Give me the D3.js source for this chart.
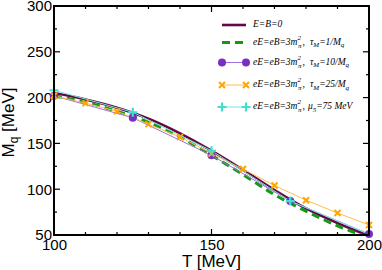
<!DOCTYPE html>
<html>
<head>
<meta charset="utf-8">
<script src="https://cdn.jsdelivr.net/npm/d3@7"></script>
<style>
  body { margin: 0; background: #fff; }
  .tick text { font-family: "Liberation Sans", Arial, sans-serif; }
</style>
</head>
<body>
<div id="chart"></div>
<script>
// temperatures
var tFine = [100, 110, 120, 130, 140, 150, 160, 170, 180, 190, 200];
var tCoarse = [100, 125, 150, 175, 200];

// M_q values [MeV] for each case
var mZero   = [205, 198, 189, 177, 161, 142, 121, 99, 79, 63, 49];   // E=B=0
var mTau1   = [202, 195, 185, 173, 157, 137, 116, 94, 76, 60, 47];   // tau_M = 1/M_q
var mTau10  = [202, 178, 137, 87, 51];                               // tau_M = 10/M_q
var mTau25  = [202, 194, 185, 171, 157, 139, 122, 104, 88, 74, 61];  // tau_M = 25/M_q
var mMu5    = [208, 184, 142, 87, 51];                               // mu_5 = 75 MeV

var xTicks = [100, 150, 200];
var yTicks = [50, 100, 150, 200, 250, 300];

// plot box
var margin = {top: 6, right: 13, bottom: 35, left: 54},
  width = 382 - margin.left - margin.right,
  height = 270 - margin.top - margin.bottom;

var svg = d3.select("#chart")
  .append("svg")
    .attr("width", 382)
    .attr("height", 270)
  .append("g")
    .attr("transform", "translate(" + margin.left + "," + margin.top + ")");

var x = d3.scaleLinear().domain([100, 200]).range([0, width]);
var y = d3.scaleLinear().domain([50, 300]).range([height, 0]);

svg.append("defs").append("clipPath").attr("id", "clip")
  .append("rect").attr("width", width).attr("height", height);

// minor ticks (inward) on all four sides
var xMinor = d3.range(110, 200, 10).filter(function(v) { return v != 150; });
var yMinor = d3.range(75, 300, 50);

function drawTicks(g, vals, len, horiz) {
  vals.forEach(function(v) {
    if (horiz) {
      g.append("line").attr("x1", x(v)).attr("x2", x(v)).attr("y1", height).attr("y2", height - len);
      g.append("line").attr("x1", x(v)).attr("x2", x(v)).attr("y1", 0).attr("y2", len);
    } else {
      g.append("line").attr("y1", y(v)).attr("y2", y(v)).attr("x1", 0).attr("x2", len);
      g.append("line").attr("y1", y(v)).attr("y2", y(v)).attr("x1", width).attr("x2", width - len);
    }
  });
}
var tk = svg.append("g").attr("stroke", "#000").attr("stroke-width", 1.2);
drawTicks(tk, xMinor, 3, true);
drawTicks(tk, xTicks, 6, true);
drawTicks(tk, yMinor, 3, false);
drawTicks(tk, yTicks, 6, false);

// tick labels through axes (lines hidden)
var xAxis = svg.append("g")
  .attr("transform", "translate(0," + height + ")")
  .call(d3.axisBottom(x).tickValues(xTicks).tickSize(0).tickPadding(4));
xAxis.select(".domain").remove();
xAxis.selectAll("text").style("font-size", "15px").attr("fill", "#000");

var yAxis = svg.append("g")
  .call(d3.axisLeft(y).tickValues(yTicks).tickSize(0).tickPadding(2));
yAxis.select(".domain").remove();
yAxis.selectAll("text").style("font-size", "15px").attr("fill", "#000");

// series
var plot = svg.append("g").attr("clip-path", "url(#clip)");

function series(xs, ys) {
  return xs.map(function(t, i) { return [t, ys[i]]; });
}
var smooth = d3.line().x(function(d) { return x(d[0]); }).y(function(d) { return y(d[1]); })
  .curve(d3.curveMonotoneX);
var straight = d3.line().x(function(d) { return x(d[0]); }).y(function(d) { return y(d[1]); });

var cMaroon = "#670748", cGreen = "#139a13", cViolet = "#7a2fc4",
    cOrange = "#ffa500", cCyan = "#40e0d0";

plot.append("path").attr("d", smooth(series(tFine, mZero)))
  .attr("fill", "none").attr("stroke", cMaroon).attr("stroke-width", 2.6);

plot.append("path").attr("d", smooth(series(tFine, mTau1)))
  .attr("fill", "none").attr("stroke", cGreen).attr("stroke-width", 3)
  .attr("stroke-dasharray", "8,5");

plot.append("path").attr("d", straight(series(tCoarse, mTau10)))
  .attr("fill", "none").attr("stroke", "#a070e0").attr("stroke-width", 1);

plot.append("path").attr("d", straight(series(tFine, mTau25)))
  .attr("fill", "none").attr("stroke", "#ffbe50").attr("stroke-width", 1);

plot.append("path").attr("d", straight(series(tCoarse, mMu5)))
  .attr("fill", "none").attr("stroke", "#70e8dc").attr("stroke-width", 1);

// markers
var marks = svg.append("g");
function circle(g, cx, cy) {
  g.append("circle").attr("cx", cx).attr("cy", cy).attr("r", 4).attr("fill", cViolet);
}
function cross(g, cx, cy) {
  var s = 3;
  g.append("path").attr("d", "M" + (cx - s) + "," + (cy - s) + "L" + (cx + s) + "," + (cy + s) +
      "M" + (cx - s) + "," + (cy + s) + "L" + (cx + s) + "," + (cy - s))
    .attr("stroke", cOrange).attr("stroke-width", 2);
}
function plus(g, cx, cy) {
  var s = 4.5;
  g.append("path").attr("d", "M" + (cx - s) + "," + cy + "L" + (cx + s) + "," + cy +
      "M" + cx + "," + (cy - s) + "L" + cx + "," + (cy + s))
    .attr("stroke", cCyan).attr("stroke-width", 2.2);
}
series(tCoarse, mTau10).forEach(function(d) { circle(marks, x(d[0]), y(d[1])); });
series(tFine, mTau25).forEach(function(d) { cross(marks, x(d[0]), y(d[1])); });
series(tCoarse, mMu5).slice(0, 4).forEach(function(d) { plus(marks, x(d[0]), y(d[1])); });

// frame
svg.append("rect").attr("width", width).attr("height", height)
  .attr("fill", "none").attr("stroke", "#000").attr("stroke-width", 2);

// axis titles
svg.append("text")
  .attr("x", width / 2).attr("y", height + 32)
  .attr("text-anchor", "middle")
  .style("font-family", "Liberation Sans, Arial, sans-serif").style("font-size", "17px")
  .text("T [MeV]");

var yl = svg.append("text")
  .attr("transform", "translate(" + (-40) + "," + (height / 2 + 2) + ") rotate(-90)")
  .attr("text-anchor", "middle")
  .style("font-family", "Liberation Sans, Arial, sans-serif").style("font-size", "17px");
yl.append("tspan").text("M");
yl.append("tspan").attr("dy", 4).style("font-size", "12px").text("q");
yl.append("tspan").attr("dy", -4).text(" [MeV]");

// legend
var leg = svg.append("g").attr("transform", "translate(" + (222 - margin.left) + ",0)");
var legRows = [19, 36.5, 56.5, 79, 101];
var legFont = "Liberation Serif, Times New Roman, serif";

function legText(ty, parts) {
  var t = leg.append("text").attr("x", 31).attr("y", ty + 2)
    .style("font-family", legFont).style("font-style", "italic").style("font-size", "9.5px");
  parts.forEach(function(p) {
    var s = t.append("tspan").text(p[0]);
    if (p[1]) s.attr("dy", p[1]);
    if (p[2]) s.attr("dx", p[2]);
    if (p[3]) s.style("font-size", p[3]);
  });
}
var mPi = [["eE=eB=3m"], ["\u03c0", 3, 0.5, "7px"], ["2", -8, -4, "7px"], [",", 5, 1.5]];

leg.append("line").attr("x1", 0).attr("x2", 24).attr("y1", legRows[0]).attr("y2", legRows[0])
  .attr("stroke", cMaroon).attr("stroke-width", 2.6);
legText(legRows[0], [["E=B=0"]]);

leg.append("line").attr("x1", 0).attr("x2", 24).attr("y1", legRows[1]).attr("y2", legRows[1])
  .attr("stroke", cGreen).attr("stroke-width", 3).attr("stroke-dasharray", "8,5");
legText(legRows[1], mPi.concat([["\u03c4", 0, 5], ["M", 2.5, 0, "7px"], ["=1/M", -2.5], ["q", 2.5, 0, "7px"]]));

leg.append("line").attr("x1", 0).attr("x2", 24).attr("y1", legRows[2]).attr("y2", legRows[2])
  .attr("stroke", "#a070e0").attr("stroke-width", 1);
circle(leg, 0, legRows[2]); circle(leg, 24, legRows[2]);
legText(legRows[2], mPi.concat([["\u03c4", 0, 5], ["M", 2.5, 0, "7px"], ["=10/M", -2.5], ["q", 2.5, 0, "7px"]]));

leg.append("line").attr("x1", 0).attr("x2", 24).attr("y1", legRows[3]).attr("y2", legRows[3])
  .attr("stroke", "#ffbe50").attr("stroke-width", 1);
cross(leg, 0, legRows[3]); cross(leg, 24, legRows[3]);
legText(legRows[3], mPi.concat([["\u03c4", 0, 5], ["M", 2.5, 0, "7px"], ["=25/M", -2.5], ["q", 2.5, 0, "7px"]]));

leg.append("line").attr("x1", 0).attr("x2", 24).attr("y1", legRows[4]).attr("y2", legRows[4])
  .attr("stroke", "#70e8dc").attr("stroke-width", 1);
plus(leg, 0, legRows[4]); plus(leg, 24, legRows[4]);
legText(legRows[4], mPi.concat([["\u03bc", 0, 3], ["5", 2.5, 0, "7px"], ["=75 MeV", -2.5]]));
</script>
</body>
</html>
